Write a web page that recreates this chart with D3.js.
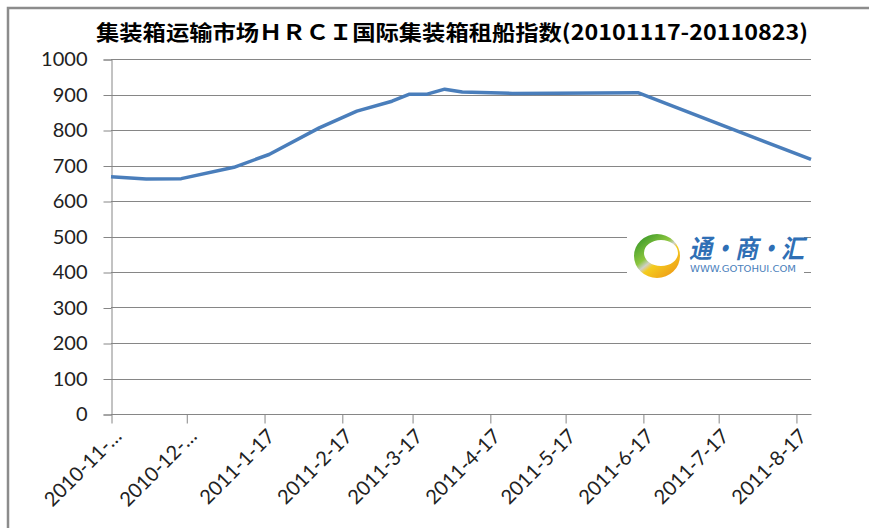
<!DOCTYPE html>
<html>
<head>
<meta charset="utf-8">
<script src="https://cdn.jsdelivr.net/npm/d3@7"></script>
<style>
  body { margin: 0; background: #fff; }
  svg { display: block; }
</style>
</head>
<body>
<svg id="svg" width="869" height="528"></svg>
<script>
'use strict';

const LINE_COLOR = '#4a7ebb';
const GRID_COLOR = '#868686';

// HRCI weekly readings (date, index)
const dates = [
  '2010-11-17', '2010-12-01', '2010-12-15', '2011-01-05', '2011-01-19',
  '2011-02-08', '2011-02-23', '2011-03-09', '2011-03-16', '2011-03-23',
  '2011-03-30', '2011-04-06', '2011-04-26', '2011-06-15', '2011-08-23',
];
const values = [
  668, 662, 663, 695, 731,
  806, 853, 881, 901, 901,
  915, 907, 903, 905, 717,
];
const tickDates = [
  '2010-11-17', '2010-12-17', '2011-01-17', '2011-02-17', '2011-03-17',
  '2011-04-17', '2011-05-17', '2011-06-17', '2011-07-17', '2011-08-17',
];
const tickLabels = [
  '2010-11-…', '2010-12-…', '2011-1-17', '2011-2-17', '2011-3-17',
  '2011-4-17', '2011-5-17', '2011-6-17', '2011-7-17', '2011-8-17',
];
const yTicks = [0, 100, 200, 300, 400, 500, 600, 700, 800, 900, 1000];

const parse = d3.timeParse('%Y-%m-%d');
const data = dates.map((d, i) => ({ date: parse(d), value: values[i] }));
const ticks = tickDates.map(parse);

const svg = d3.select('#svg');

// Outer frame (top and left edges only visible)
svg.append('path')
  .attr('d', 'M8,528 L8,8 L869,8')
  .attr('fill', 'none')
  .attr('stroke', '#8c8c8c')
  .attr('stroke-width', 2.5);

// Title
svg.append('text')
  .attr('x', 96)
  .attr('y', 40)
  .attr('textLength', 712)
  .attr('lengthAdjust', 'spacingAndGlyphs')
  .style('font-family', '"Noto Sans CJK SC", sans-serif')
  .style('font-weight', 'bold')
  .style('font-size', '21px')
  .attr('fill', '#000')
  .text('集装箱运输市场ＨＲＣＩ国际集装箱租船指数(20101117-20110823)');

const x = d3.scaleTime()
  .domain([parse('2010-11-17'), parse('2011-08-23')])
  .range([111, 811]);
const y = d3.scaleLinear().domain([0, 1000]).range([414, 59]);

// Gridlines
svg.append('g')
  .selectAll('line')
  .data(yTicks.slice(1))
  .join('line')
  .attr('x1', 111)
  .attr('x2', 811)
  .attr('y1', d => Math.round(y(d)) + 0.5)
  .attr('y2', d => Math.round(y(d)) + 0.5)
  .attr('stroke', GRID_COLOR);

// Y axis
const yAxis = svg.append('g')
  .attr('transform', 'translate(111.5,0.5)')
  .call(d3.axisLeft(y).tickValues(yTicks).tickSize(8).tickPadding(16)
    .tickFormat(d3.format('d')));
yAxis.select('.domain').attr('stroke', GRID_COLOR);
yAxis.selectAll('.tick line').attr('stroke', GRID_COLOR);
yAxis.selectAll('.tick text')
  .style('font-family', 'Lato, sans-serif')
  .style('font-size', '20px')
  .attr('fill', '#222');

// X axis
const xAxis = svg.append('g')
  .attr('transform', 'translate(0.5,414.5)')
  .call(d3.axisBottom(x).tickValues(ticks).tickSize(9)
    .tickFormat((d, i) => tickLabels[i]));
xAxis.select('.domain').attr('d', 'M110.5,0H811').attr('stroke', GRID_COLOR);
xAxis.selectAll('.tick line').attr('stroke', GRID_COLOR);
xAxis.selectAll('.tick text')
  .style('font-family', 'Lato, sans-serif')
  .style('font-size', '20px')
  .attr('fill', '#222')
  .attr('text-anchor', 'end')
  .attr('transform', 'translate(6,18) rotate(-45)')
  .attr('dy', '0.35em')
  .attr('y', 0);

// Logo panel
const logo = svg.append('g').attr('transform', 'translate(627,226)');
logo.append('rect')
  .attr('width', 177).attr('height', 58).attr('fill', '#fff');
const defs = svg.append('defs');
const ring = defs.append('linearGradient').attr('id', 'ring')
  .attr('x1', 0.1).attr('y1', 0.1).attr('x2', 0.8).attr('y2', 0.95);
ring.append('stop').attr('offset', '0%').attr('stop-color', '#3d9a2b');
ring.append('stop').attr('offset', '40%').attr('stop-color', '#8cc63e');
ring.append('stop').attr('offset', '52%').attr('stop-color', '#d0d0c8');
ring.append('stop').attr('offset', '62%').attr('stop-color', '#f4cc1e');
ring.append('stop').attr('offset', '100%').attr('stop-color', '#ef9f18');
// ring = outer ellipse minus offset inner ellipse
const ellipse = (cx, cy, rx, ry) =>
  `M${cx - rx},${cy} a${rx},${ry} 0 1,0 ${2 * rx},0 a${rx},${ry} 0 1,0 ${-2 * rx},0 Z`;
logo.append('path')
  .attr('d', ellipse(30, 30, 23, 22) + ellipse(34, 27, 17, 13))
  .attr('fill-rule', 'evenodd')
  .attr('fill', 'url(#ring)');
logo.append('text')
  .attr('x', 62).attr('y', 32)
  .style('font-family', '"Noto Sans CJK SC", sans-serif')
  .style('font-weight', 'bold')
  .style('font-style', 'italic')
  .style('font-size', '26px')
  .attr('textLength', 115)
  .attr('lengthAdjust', 'spacingAndGlyphs')
  .attr('fill', '#2f6fb5')
  .text('通·商·汇');
logo.append('text')
  .attr('x', 63).attr('y', 46)
  .style('font-family', '"DejaVu Sans", sans-serif')
  .style('font-size', '8px')
  .attr('textLength', 106)
  .attr('lengthAdjust', 'spacingAndGlyphs')
  .attr('fill', '#4a7ebb')
  .text('WWW.GOTOHUI.COM');

// Series line
const line = d3.line().x(d => x(d.date)).y(d => y(d.value));
svg.append('path')
  .datum(data)
  .attr('d', line)
  .attr('fill', 'none')
  .attr('stroke', LINE_COLOR)
  .attr('stroke-width', 3.5)
  .attr('stroke-linejoin', 'round');
</script>
</body>
</html>
